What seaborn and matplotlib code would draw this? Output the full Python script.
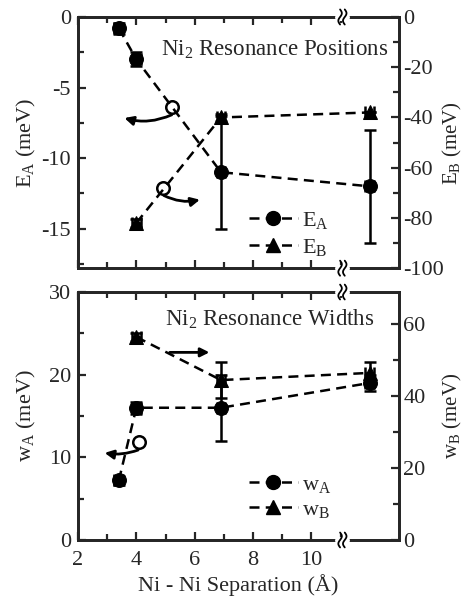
import numpy as np
import pandas as pd
import matplotlib
matplotlib.use("Agg")
import matplotlib.pyplot as plt
from matplotlib.lines import Line2D
from matplotlib.ticker import MultipleLocator
import seaborn as sns

# values
sep_a = [3.4, 4.0, 6.9, 12.0]
sep_b = [4.0, 6.9, 12.0]

E_A = [-0.8, -3.0, -11.0, -12.0]
E_A_err = [0.4, 0.5, 4.0, 4.0]
E_B = [-82.0, -40.0, -38.0]
E_B_err = [1.5, 1.5, 0.0]

w_A = [7.2, 16.0, 16.0, 19.0]
w_A_err = [0.6, 0.7, 4.0, 1.0]
w_B = [56.5, 44.5, 46.5]
w_B_err = [1.2, 5.0, 3.0]

x_err = 0.15
x_break = 11.06

sns.set_style("ticks")
plt.rcParams['font.family'] = ['Liberation Serif', 'DejaVu Serif']
plt.rcParams['mathtext.fontset'] = 'custom'
plt.rcParams['mathtext.rm'] = 'Liberation Serif'
plt.rcParams['mathtext.it'] = 'Liberation Serif:italic'
plt.rcParams['axes.unicode_minus'] = False

fig = plt.figure(figsize=(4.64, 5.96), dpi=100)
ax1 = fig.add_axes([0.168, 0.550, 0.692, 0.4215])
ax2 = fig.add_axes([0.168, 0.094, 0.692, 0.416])
ax1r = ax1.twinx()
ax2r = ax2.twinx()

DASH = (4, 2.5)


def series(ax, x, y, err, marker):
    df = pd.DataFrame({"x": x, "y": y})
    sns.lineplot(data=df, x="x", y="y", ax=ax, color="black",
                 linewidth=1.8, dashes=DASH, marker=marker, markersize=10,
                 markeredgecolor="black", markerfacecolor="black")
    ax.errorbar(x, y, yerr=err, xerr=x_err, fmt="none", ecolor="black",
                elinewidth=1.8, capsize=4.5, capthick=1.8)
    ax.set_xlabel("")
    ax.set_ylabel("")


def style(ax, axr, bottom):
    ax.set_xlim(2, 13)
    for a in (ax, axr):
        for s in a.spines.values():
            s.set_linewidth(2)
            s.set_visible(True)
    ax.tick_params(axis="both", which="both", direction="in", top=True,
                   labelsize=16, width=1.6, pad=5)
    ax.tick_params(axis="x", pad=8)
    ax.tick_params(which="major", length=6)
    ax.tick_params(which="minor", length=4)
    axr.tick_params(axis="y", which="both", direction="in", labelsize=16,
                    width=1.6, pad=3)
    axr.tick_params(which="major", length=6)
    axr.tick_params(which="minor", length=4)
    ax.set_xticks([t for t in range(2, 12, 2)])
    ax.set_xticks([t for t in range(3, 12, 2)], minor=True)
    if not bottom:
        ax.tick_params(labelbottom=False)
    ax.yaxis.set_label_coords(-0.125, 0.5)
    axr.yaxis.set_label_coords(1.13, 0.5)
    # broken-axis marks, drawn on the twin axes because it sits on top
    tr = axr.get_xaxis_transform()
    for yy in (0, 1):
        axr.plot([x_break - 0.14, x_break + 0.14], [yy, yy], color="white",
                 linewidth=5, transform=tr, clip_on=False, zorder=5)
        t = np.linspace(-1, 1, 40)
        for dx in (-0.08, 0.08):
            axr.plot(x_break + dx + 0.06 * np.sin(np.pi * t),
                     yy + 0.03 * t, color="black", linewidth=1.3,
                     transform=tr, clip_on=False, zorder=6)


def loop_arrow(ax, loop, start, head, rad):
    ax.plot([loop[0]], [loop[1]], marker="o", markersize=9, fillstyle="none",
            markeredgecolor="black", markeredgewidth=1.8, linestyle="none")
    ax.annotate("", xy=head, xytext=start,
                arrowprops=dict(arrowstyle="-|>", color="black", lw=2,
                                mutation_scale=13,
                                connectionstyle=f"arc3,rad={rad}"))


# top panel: positions
series(ax1, sep_a, E_A, E_A_err, "o")
series(ax1r, sep_b, E_B, E_B_err, "^")
ax1.set_ylim(-17.8, 0)
ax1.set_yticks([0, -5, -10, -15])
ax1.yaxis.set_minor_locator(MultipleLocator(2.5))
ax1r.set_ylim(-100, 0)
ax1r.set_yticks([0, -20, -40, -60, -80, -100])
ax1r.yaxis.set_minor_locator(MultipleLocator(10))
ax1.set_ylabel("E$_\\mathrm{A}$ (meV)", fontsize=16)
ax1r.set_ylabel("E$_\\mathrm{B}$ (meV)", fontsize=15)
style(ax1, ax1r, False)
ax1.text(0.968, 0.87, "Ni$_2$ Resonance Positions", transform=ax1.transAxes,
         ha="right", va="center", fontsize=16.5)
loop_arrow(ax1, (5.21, -6.4), (5.3, -6.85), (3.5, -7.1), -0.2)
loop_arrow(ax1, (4.91, -12.1), (4.85, -12.55), (6.27, -12.9), 0.2)
h1 = [Line2D([], [], color="black", dashes=DASH, linewidth=1.8,
             marker="o", markersize=10),
      Line2D([], [], color="black", dashes=DASH, linewidth=1.8,
             marker="^", markersize=10)]
ax1.legend(h1, ["E$_\\mathrm{A}$", "E$_\\mathrm{B}$"], loc="lower left",
           bbox_to_anchor=(0.47, -0.04), frameon=False, fontsize=16,
           handlelength=2.2, handletextpad=0.2, labelspacing=0.3)

# bottom panel: widths
series(ax2, sep_a, w_A, w_A_err, "o")
series(ax2r, sep_b, w_B, w_B_err, "^")
ax2.set_ylim(0, 30)
ax2.set_yticks([0, 10, 20, 30])
ax2.yaxis.set_minor_locator(MultipleLocator(5))
ax2r.set_ylim(0, 69)
ax2r.set_yticks([0, 20, 40, 60])
ax2r.yaxis.set_minor_locator(MultipleLocator(10))
ax2.set_ylabel("w$_\\mathrm{A}$ (meV)", fontsize=16)
ax2r.set_ylabel("w$_\\mathrm{B}$ (meV)", fontsize=15)
ax2.set_xlabel("Ni - Ni Separation (Å)", fontsize=16, labelpad=3)
style(ax2, ax2r, True)
ax2.text(0.922, 0.89, "Ni$_2$ Resonance Widths", transform=ax2.transAxes,
         ha="right", va="center", fontsize=16.5)
ax2.annotate("", xy=(6.6, 22.7), xytext=(5.05, 22.7),
             arrowprops=dict(arrowstyle="-|>", color="black", lw=2,
                             mutation_scale=13))
loop_arrow(ax2, (4.1, 11.8), (4.15, 11.0), (2.82, 10.6), -0.15)
h2 = [Line2D([], [], color="black", dashes=DASH, linewidth=1.8,
             marker="o", markersize=10),
      Line2D([], [], color="black", dashes=DASH, linewidth=1.8,
             marker="^", markersize=10)]
ax2.legend(h2, ["w$_\\mathrm{A}$", "w$_\\mathrm{B}$"], loc="lower left",
           bbox_to_anchor=(0.47, 0.0), frameon=False, fontsize=16,
           handlelength=2.2, handletextpad=0.2, labelspacing=0.2)

fig.savefig("out.png", dpi=100)
